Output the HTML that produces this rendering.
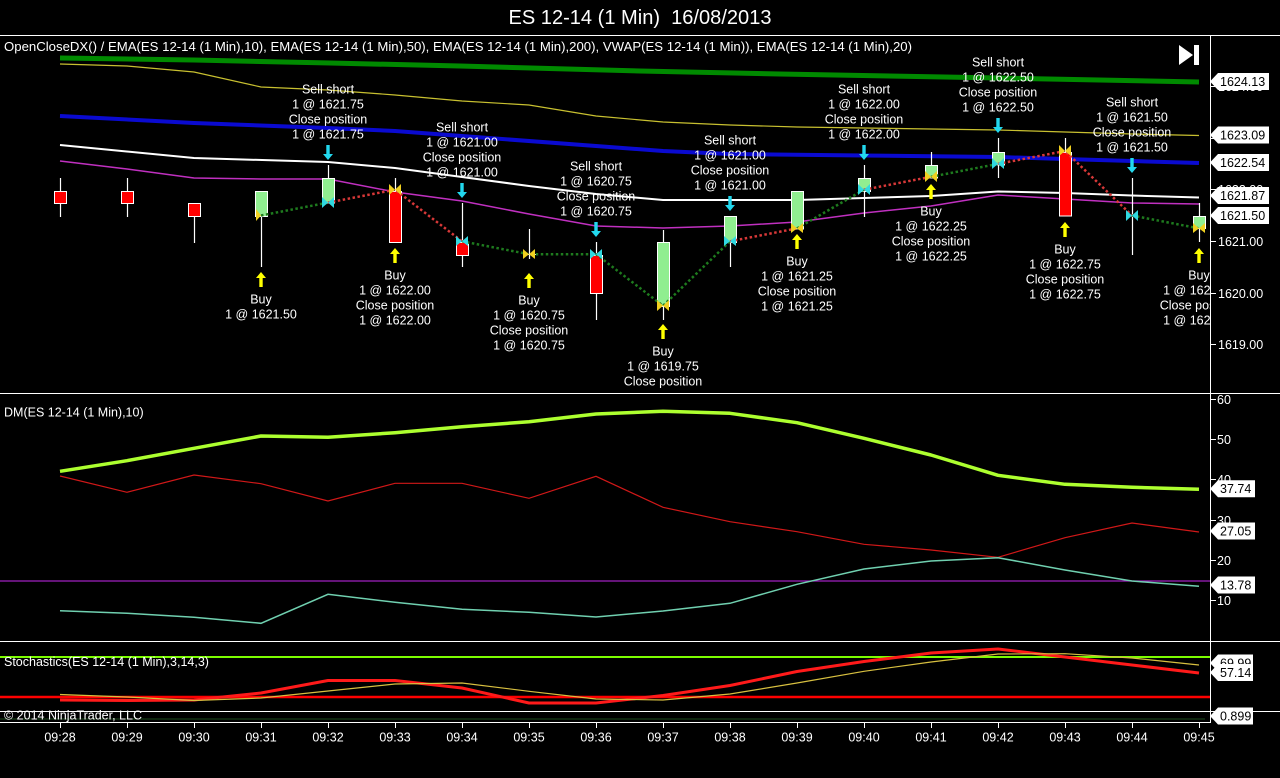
<!DOCTYPE html>
<html><head><meta charset="utf-8"><style>
html,body{margin:0;padding:0;background:#000;}
svg{display:block;}
text{font-family:"Liberation Sans",Arial,sans-serif;fill:#fff;}
</style></head><body>
<svg width="1280" height="778" viewBox="0 0 1280 778" xmlns="http://www.w3.org/2000/svg">
<defs>
<clipPath id="cp1"><rect x="0" y="36" width="1210" height="357"/></clipPath>
<clipPath id="cp2"><rect x="0" y="394" width="1210" height="247"/></clipPath>
<clipPath id="cp3"><rect x="0" y="642" width="1210" height="80"/></clipPath>
</defs>
<rect width="1280" height="778" fill="#000"/>
<text x="640" y="24" font-size="20" text-anchor="middle" textLength="263" lengthAdjust="spacingAndGlyphs" xml:space="preserve">ES 12-14 (1 Min)  16/08/2013</text>

<!-- frame lines -->
<g stroke="#fff" stroke-width="1" shape-rendering="crispEdges">
<line x1="0" y1="35.5" x2="1280" y2="35.5"/>
<line x1="0" y1="393.5" x2="1280" y2="393.5"/>
<line x1="0" y1="641.5" x2="1280" y2="641.5"/>
<line x1="0" y1="711.5" x2="1280" y2="711.5"/>
<line x1="0" y1="722.5" x2="1210" y2="722.5"/>
<line x1="1210.5" y1="35" x2="1210.5" y2="723"/>
</g>

<!-- ===== TOP PANEL ===== -->
<g clip-path="url(#cp1)" fill="none">
<polyline stroke="#008a00" stroke-width="5" points="60,58 194,60 330,63 460,66 640,71 780,74 1000,78 1199,82"/>
<polyline stroke="#c8c030" stroke-width="1.2" points="60,64 127,66 194,72 261,87 328,90 395,95 462,101 529,105 596,116 663,122 730,125 797,127 864,128 931,129 998,130 1065,132 1132,134 1199,135.5"/>
<polyline stroke="#0a0ad0" stroke-width="4" points="60,116 194,123 328,128 395,131 462,136 596,146 663,151 730,154 864,155.5 998,157 1065,159 1132,161 1199,163"/>
<polyline stroke="#ffffff" stroke-width="2" points="60,145 194,158 328,162 395,168 462,177 529,186 596,194 663,200 730,200 797,200 864,198 931,196 998,191.5 1065,193 1132,195.5 1199,197.5"/>
<polyline stroke="#c030c0" stroke-width="1.5" points="60,161 127,169 194,178 261,179 328,179 395,192 462,201 529,214 596,226 663,228 730,226 797,222 864,213 931,206 998,195 1065,199 1132,203 1199,204"/>
</g>

<g clip-path="url(#cp1)">
<!-- wicks -->
<g stroke="#fff" stroke-width="1.2">
<line x1="60.5" y1="178" x2="60.5" y2="217"/>
<line x1="127.5" y1="178" x2="127.5" y2="217"/>
<line x1="194.5" y1="203" x2="194.5" y2="243"/>
<line x1="261.5" y1="191" x2="261.5" y2="267"/>
<line x1="328.5" y1="165" x2="328.5" y2="203"/>
<line x1="395.5" y1="178" x2="395.5" y2="243"/>
<line x1="462.5" y1="203" x2="462.5" y2="267"/>
<line x1="529.5" y1="229" x2="529.5" y2="259"/>
<line x1="596.5" y1="242" x2="596.5" y2="320"/>
<line x1="663.5" y1="230" x2="663.5" y2="320"/>
<line x1="730.5" y1="216" x2="730.5" y2="267"/>
<line x1="864.5" y1="165" x2="864.5" y2="217"/>
<line x1="931.5" y1="152" x2="931.5" y2="178"/>
<line x1="998.5" y1="138" x2="998.5" y2="178"/>
<line x1="1065.5" y1="138" x2="1065.5" y2="216"/>
<line x1="1132.5" y1="178" x2="1132.5" y2="255"/>
<line x1="1199.5" y1="203" x2="1199.5" y2="242"/>
</g>
<!-- bodies -->
<g stroke="#fff" stroke-width="1">
<rect x="54.5" y="191.5" width="12" height="12" fill="#ff0000"/>
<rect x="121.5" y="191.5" width="12" height="12" fill="#ff0000"/>
<rect x="188.5" y="203.5" width="12" height="13" fill="#ff0000"/>
<rect x="255.5" y="191.5" width="12" height="25" fill="#90ee90"/>
<rect x="322.5" y="178.5" width="12" height="24.5" fill="#90ee90"/>
<rect x="389.5" y="191.5" width="12" height="51" fill="#ff0000"/>
<rect x="456.5" y="242.5" width="12" height="13" fill="#ff0000"/>
<line x1="523" y1="254.5" x2="536" y2="254.5"/>
<rect x="590.5" y="255.5" width="12" height="38" fill="#ff0000"/>
<rect x="657.5" y="242.5" width="12" height="64" fill="#90ee90"/>
<rect x="724.5" y="216.5" width="12" height="26" fill="#90ee90"/>
<rect x="791.5" y="191.5" width="12" height="37.5" fill="#90ee90"/>
<rect x="858.5" y="178.5" width="12" height="13" fill="#90ee90"/>
<rect x="925.5" y="165.5" width="12" height="12.5" fill="#90ee90"/>
<rect x="992.5" y="152.5" width="12" height="12.5" fill="#90ee90"/>
<rect x="1059.5" y="152.5" width="12" height="63.5" fill="#ff0000"/>
<line x1="1126" y1="216" x2="1139" y2="216"/>
<rect x="1193.5" y="216.5" width="12" height="12" fill="#90ee90"/>
</g>

<!-- trade dotted lines -->
<g fill="none" stroke-width="2.5" stroke-dasharray="2.5 2.5">
<polyline stroke="#1e7a1e" points="261,215.5 328,202.6"/>
<polyline stroke="#d83838" points="328,202.6 395,189.7 462,241.3"/>
<polyline stroke="#1e7a1e" points="462,241.3 529,254.2 596,254.2 663,305.8 730,241.3"/>
<polyline stroke="#d83838" points="730,241.3 797,228.4"/>
<polyline stroke="#1e7a1e" points="797,228.4 864,189.7"/>
<polyline stroke="#d83838" points="864,189.7 931,176.8"/>
<polyline stroke="#1e7a1e" points="931,176.8 998,163.9"/>
<polyline stroke="#d83838" points="998,163.9 1065,151 1132,215.5"/>
<polyline stroke="#1e7a1e" points="1132,215.5 1199,228.4"/>
</g>

<!-- execution markers -->
<g fill="#f0d020">
<polygon points="256,209 261,215.5 256,221"/>
<polygon points="389,184 395,189.7 389,195"/><polygon points="401,184 395,189.7 401,195"/>
<polygon points="523,249 529,254.2 523,259"/><polygon points="535,249 529,254.2 535,259"/>
<polygon points="657,300 663,305.8 657,311"/><polygon points="669,300 663,305.8 669,311"/>
<polygon points="791,223 797,228.4 791,233"/><polygon points="803,223 797,228.4 803,233"/>
<polygon points="925,171 931,176.8 925,182"/><polygon points="937,171 931,176.8 937,182"/>
<polygon points="1059,145 1065,151 1059,156"/><polygon points="1071,145 1065,151 1071,156"/>
<polygon points="1193,223 1199,228.4 1193,233"/><polygon points="1205,223 1199,228.4 1205,233"/>
</g>
<g fill="#30d8e0">
<polygon points="322,197 328,202.6 322,208"/><polygon points="334,197 328,202.6 334,208"/>
<polygon points="456,236 462,241.3 456,246"/><polygon points="468,236 462,241.3 468,246"/>
<polygon points="590,249 596,254.2 590,259"/><polygon points="602,249 596,254.2 602,259"/>
<polygon points="724,236 730,241.3 724,246"/><polygon points="736,236 730,241.3 736,246"/>
<polygon points="858,184 864,189.7 858,195"/><polygon points="870,184 864,189.7 870,195"/>
<polygon points="992,158 998,163.9 992,169"/><polygon points="1004,158 998,163.9 1004,169"/>
<polygon points="1126,210 1132,215.5 1126,221"/><polygon points="1138,210 1132,215.5 1138,221"/>
</g>

<!-- sell arrows (cyan, down) -->
<g fill="#22d8ee">
<polygon points="326.3,145 329.7,145 329.7,154 333,154 328,160 323,154 326.3,154"/>
<polygon points="460.3,183 463.7,183 463.7,192 467,192 462,198 457,192 460.3,192"/>
<polygon points="594.3,222 597.7,222 597.7,231 601,231 596,237 591,231 594.3,231"/>
<polygon points="728.3,196 731.7,196 731.7,205 735,205 730,211 725,205 728.3,205"/>
<polygon points="862.3,145 865.7,145 865.7,154 869,154 864,160 859,154 862.3,154"/>
<polygon points="996.3,118 999.7,118 999.7,127 1003,127 998,133 993,127 996.3,127"/>
<polygon points="1130.3,158 1133.7,158 1133.7,167 1137,167 1132,173 1127,167 1130.3,167"/>
</g>
<!-- buy arrows (yellow, up) -->
<g fill="#ffff00">
<polygon points="261,272 266,278 262.7,278 262.7,287 259.3,287 259.3,278 256,278"/>
<polygon points="395,248 400,254 396.7,254 396.7,263 393.3,263 393.3,254 390,254"/>
<polygon points="529,273 534,279 530.7,279 530.7,288 527.3,288 527.3,279 524,279"/>
<polygon points="663,324 668,330 664.7,330 664.7,339 661.3,339 661.3,330 658,330"/>
<polygon points="797,234 802,240 798.7,240 798.7,249 795.3,249 795.3,240 792,240"/>
<polygon points="931,184 936,190 932.7,190 932.7,199 929.3,199 929.3,190 926,190"/>
<polygon points="1065,222 1070,228 1066.7,228 1066.7,237 1063.3,237 1063.3,228 1060,228"/>
<polygon points="1199,248 1204,254 1200.7,254 1200.7,263 1197.3,263 1197.3,254 1194,254"/>
</g>

<!-- trade labels -->
<g font-size="12.5" text-anchor="middle">
<text x="328" y="93.5">Sell short</text><text x="328" y="108.5">1 @ 1621.75</text><text x="328" y="123.5">Close position</text><text x="328" y="138.5">1 @ 1621.75</text>
<text x="462" y="131.5">Sell short</text><text x="462" y="146.5">1 @ 1621.00</text><text x="462" y="161.5">Close position</text><text x="462" y="176.5">1 @ 1621.00</text>
<text x="596" y="170.5">Sell short</text><text x="596" y="185.5">1 @ 1620.75</text><text x="596" y="200.5">Close position</text><text x="596" y="215.5">1 @ 1620.75</text>
<text x="730" y="144.5">Sell short</text><text x="730" y="159.5">1 @ 1621.00</text><text x="730" y="174.5">Close position</text><text x="730" y="189.5">1 @ 1621.00</text>
<text x="864" y="93.5">Sell short</text><text x="864" y="108.5">1 @ 1622.00</text><text x="864" y="123.5">Close position</text><text x="864" y="138.5">1 @ 1622.00</text>
<text x="998" y="66.5">Sell short</text><text x="998" y="81.5">1 @ 1622.50</text><text x="998" y="96.5">Close position</text><text x="998" y="111.5">1 @ 1622.50</text>
<text x="1132" y="106.5">Sell short</text><text x="1132" y="121.5">1 @ 1621.50</text><text x="1132" y="136.5">Close position</text><text x="1132" y="151.5">1 @ 1621.50</text>

<text x="261" y="303.5">Buy</text><text x="261" y="318.5">1 @ 1621.50</text>
<text x="395" y="279.5">Buy</text><text x="395" y="294.5">1 @ 1622.00</text><text x="395" y="309.5">Close position</text><text x="395" y="324.5">1 @ 1622.00</text>
<text x="529" y="304.5">Buy</text><text x="529" y="319.5">1 @ 1620.75</text><text x="529" y="334.5">Close position</text><text x="529" y="349.5">1 @ 1620.75</text>
<text x="663" y="355.5">Buy</text><text x="663" y="370.5">1 @ 1619.75</text><text x="663" y="385.5">Close position</text>
<text x="797" y="265.5">Buy</text><text x="797" y="280.5">1 @ 1621.25</text><text x="797" y="295.5">Close position</text><text x="797" y="310.5">1 @ 1621.25</text>
<text x="931" y="215.5">Buy</text><text x="931" y="230.5">1 @ 1622.25</text><text x="931" y="245.5">Close position</text><text x="931" y="260.5">1 @ 1622.25</text>
<text x="1065" y="253.5">Buy</text><text x="1065" y="268.5">1 @ 1622.75</text><text x="1065" y="283.5">Close position</text><text x="1065" y="298.5">1 @ 1622.75</text>
<text x="1199" y="279.5">Buy</text><text x="1199" y="294.5">1 @ 1621.25</text><text x="1199" y="309.5">Close position</text><text x="1199" y="324.5">1 @ 1621.25</text>
</g>
</g>

<text x="4" y="51" font-size="12.5" textLength="908" lengthAdjust="spacingAndGlyphs">OpenCloseDX() / EMA(ES 12-14 (1 Min),10), EMA(ES 12-14 (1 Min),50), EMA(ES 12-14 (1 Min),200), VWAP(ES 12-14 (1 Min)), EMA(ES 12-14 (1 Min),20)</text>
<!-- play-to-end icon -->
<polygon points="1179,45 1193,55 1179,65" fill="#fff"/>
<rect x="1194" y="45" width="5" height="20" fill="#fff"/>

<!-- top right axis -->
<g stroke="#fff" stroke-width="1">
<line x1="1210" y1="86.5" x2="1216" y2="86.5"/>
<line x1="1210" y1="138.5" x2="1216" y2="138.5"/>
<line x1="1210" y1="189.5" x2="1216" y2="189.5"/>
<line x1="1210" y1="241.5" x2="1216" y2="241.5"/>
<line x1="1210" y1="293.5" x2="1216" y2="293.5"/>
<line x1="1210" y1="344.5" x2="1216" y2="344.5"/>
</g>
<g font-size="12.5">
<text x="1218" y="91">1624.00</text>
<text x="1218" y="143">1623.00</text>
<text x="1218" y="194">1622.00</text>
<text x="1218" y="246">1621.00</text>
<text x="1218" y="298">1620.00</text>
<text x="1218" y="349">1619.00</text>
</g>
<g fill="#fff">
<polygon points="1210,81.5 1218,73 1269,73 1269,90 1218,90"/>
<polygon points="1210,135 1218,126.5 1269,126.5 1269,143.5 1218,143.5"/>
<polygon points="1210,162.5 1218,154 1269,154 1269,171 1218,171"/>
<polygon points="1210,195.5 1218,187 1269,187 1269,204 1218,204"/>
<polygon points="1210,215.5 1218,207 1269,207 1269,224 1218,224"/>
</g>
<g font-size="12.5" fill="#000">
<text x="1220" y="86" style="fill:#000">1624.13</text>
<text x="1220" y="139.5" style="fill:#000">1623.09</text>
<text x="1220" y="167" style="fill:#000">1622.54</text>
<text x="1220" y="200" style="fill:#000">1621.87</text>
<text x="1220" y="220" style="fill:#000">1621.50</text>
</g>

<!-- ===== DM PANEL ===== -->
<text x="4" y="416.5" font-size="12.5">DM(ES 12-14 (1 Min),10)</text>
<g clip-path="url(#cp2)" fill="none">
<line x1="0" y1="581" x2="1210" y2="581" stroke="#a020c0" stroke-width="1.2"/>
<polyline stroke="#adff2f" stroke-width="3.5" stroke-linejoin="round" points="60,471.3 127,460.7 194,448.3 261,436 328,437.3 395,432.7 462,426.7 529,421.7 596,414 663,411.3 730,413.3 797,422.7 864,438.3 931,455 998,475.3 1065,484.3 1132,487.3 1199,489.3"/>
<polyline stroke="#d01818" stroke-width="1.2" points="60,476 127,492.3 194,475 261,483.7 328,501 395,483.3 462,483.3 529,498.3 596,476.3 663,507.3 730,521.7 797,531.7 864,544.3 931,550 998,557.3 1065,537.7 1132,523 1199,532"/>
<polyline stroke="#70d0b0" stroke-width="1.5" points="60,610.7 127,613.3 194,617.3 261,623.3 328,594.3 395,602.3 462,609.3 529,612.3 596,617 663,611 730,603.3 797,584.3 864,569 931,561 998,557.7 1065,570 1132,581 1199,586.3"/>
</g>
<g stroke="#fff" stroke-width="1">
<line x1="1210" y1="399.5" x2="1216" y2="399.5"/>
<line x1="1210" y1="439.5" x2="1216" y2="439.5"/>
<line x1="1210" y1="479.5" x2="1216" y2="479.5"/>
<line x1="1210" y1="520.5" x2="1216" y2="520.5"/>
<line x1="1210" y1="560.5" x2="1216" y2="560.5"/>
<line x1="1210" y1="600.5" x2="1216" y2="600.5"/>
</g>
<g font-size="12.5">
<text x="1217" y="404">60</text>
<text x="1217" y="444">50</text>
<text x="1217" y="484">40</text>
<text x="1217" y="525">30</text>
<text x="1217" y="565">20</text>
<text x="1217" y="605">10</text>
</g>
<g fill="#fff">
<polygon points="1210,488.7 1218,480.2 1255,480.2 1255,497.2 1218,497.2"/>
<polygon points="1210,531 1218,522.5 1255,522.5 1255,539.5 1218,539.5"/>
<polygon points="1210,585 1218,576.5 1255,576.5 1255,593.5 1218,593.5"/>
</g>
<g font-size="12.5">
<text x="1220" y="493.2" style="fill:#000">37.74</text>
<text x="1220" y="535.5" style="fill:#000">27.05</text>
<text x="1220" y="589.5" style="fill:#000">13.78</text>
</g>

<!-- ===== STOCHASTICS PANEL ===== -->
<g clip-path="url(#cp3)" fill="none">
<line x1="0" y1="657" x2="1210" y2="657" stroke="#7cfc00" stroke-width="2"/>
<line x1="0" y1="697" x2="1210" y2="697" stroke="#ff0000" stroke-width="2.5"/>
<polyline stroke="#ff1a1a" stroke-width="3" stroke-linejoin="round" points="60,700 127,700.5 194,700 261,693 328,680.5 395,680.5 462,688 529,703 596,703 663,695.5 730,685.5 797,671.5 864,661.5 931,653 998,649 1065,657 1132,665 1199,673"/>
<polyline stroke="#d8c040" stroke-width="1.2" points="60,694.5 127,697 194,700.5 261,698 328,691 395,684 462,683 529,691.3 596,699 663,700 730,694 797,683 864,671.3 931,662 998,654 1065,653.7 1132,658 1199,665"/>
<line x1="0" y1="719" x2="1205" y2="719" stroke="#1c4a1c" stroke-width="1"/>
</g>
<text x="4" y="666" font-size="12.5">Stochastics(ES 12-14 (1 Min),3,14,3)</text>
<text x="4" y="719.5" font-size="12.5">© 2014 NinjaTrader, LLC</text>
<g fill="#fff">
<polygon points="1210,663 1218,654.5 1253,654.5 1253,671.5 1218,671.5"/>
</g>
<text x="1220" y="667.5" font-size="12.5" style="fill:#000">69.99</text>
<g fill="#fff">
<polygon points="1210,672.5 1218,664 1253,664 1253,681 1218,681"/>
</g>
<text x="1220" y="677" font-size="12.5" style="fill:#000">57.14</text>
<g fill="#fff">
<polygon points="1210,716 1218,707.5 1253,707.5 1253,724.5 1218,724.5"/>
</g>
<text x="1220" y="720.5" font-size="12.5" style="fill:#000">0.899</text>

<!-- ===== X AXIS ===== -->
<g stroke="#fff" stroke-width="1">
<line x1="60.5" y1="722" x2="60.5" y2="728"/><line x1="127.5" y1="722" x2="127.5" y2="728"/>
<line x1="194.5" y1="722" x2="194.5" y2="728"/><line x1="261.5" y1="722" x2="261.5" y2="728"/>
<line x1="328.5" y1="722" x2="328.5" y2="728"/><line x1="395.5" y1="722" x2="395.5" y2="728"/>
<line x1="462.5" y1="722" x2="462.5" y2="728"/><line x1="529.5" y1="722" x2="529.5" y2="728"/>
<line x1="596.5" y1="722" x2="596.5" y2="728"/><line x1="663.5" y1="722" x2="663.5" y2="728"/>
<line x1="730.5" y1="722" x2="730.5" y2="728"/><line x1="797.5" y1="722" x2="797.5" y2="728"/>
<line x1="864.5" y1="722" x2="864.5" y2="728"/><line x1="931.5" y1="722" x2="931.5" y2="728"/>
<line x1="998.5" y1="722" x2="998.5" y2="728"/><line x1="1065.5" y1="722" x2="1065.5" y2="728"/>
<line x1="1132.5" y1="722" x2="1132.5" y2="728"/><line x1="1199.5" y1="722" x2="1199.5" y2="728"/>
</g>
<g font-size="12.5" text-anchor="middle">
<text x="60" y="741.5">09:28</text><text x="127" y="741.5">09:29</text><text x="194" y="741.5">09:30</text>
<text x="261" y="741.5">09:31</text><text x="328" y="741.5">09:32</text><text x="395" y="741.5">09:33</text>
<text x="462" y="741.5">09:34</text><text x="529" y="741.5">09:35</text><text x="596" y="741.5">09:36</text>
<text x="663" y="741.5">09:37</text><text x="730" y="741.5">09:38</text><text x="797" y="741.5">09:39</text>
<text x="864" y="741.5">09:40</text><text x="931" y="741.5">09:41</text><text x="998" y="741.5">09:42</text>
<text x="1065" y="741.5">09:43</text><text x="1132" y="741.5">09:44</text><text x="1199" y="741.5">09:45</text>
</g>
</svg>
</body></html>
